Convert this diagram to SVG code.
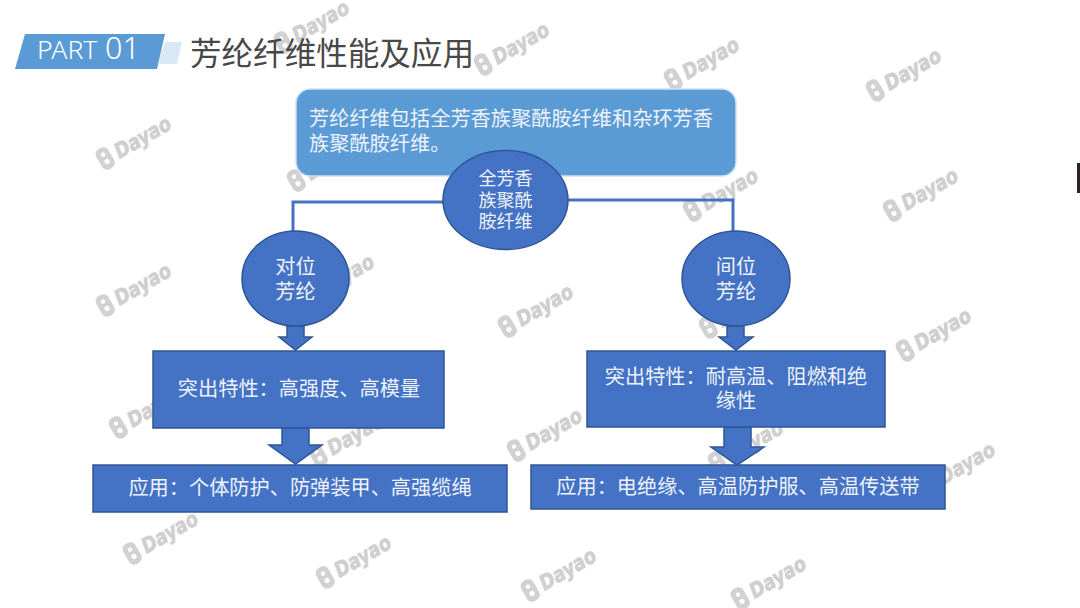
<svg xmlns="http://www.w3.org/2000/svg" width="1080" height="608" viewBox="0 0 1080 608">
<style>
text{font-family:"Noto Sans CJK SC","Noto Sans",sans-serif}
.shape{fill:#4472c4;stroke:#2f5597;stroke-width:1.5}
.t{fill:#eef2fa;font-size:20.2px;text-anchor:middle}
.s{font-size:18px}
.wm{fill:#d2d2d2}
text.wt{font-family:"DejaVu Sans",sans-serif;font-weight:700;font-style:italic;font-size:21px;fill:#cfcfcf;stroke:#cfcfcf;stroke-width:.7}
.con{fill:none;stroke:#4472c4;stroke-width:3}
</style>
<defs>
<g id="mark" transform="rotate(-30)">
<rect class="wm" x="-7" y="-11" width="14" height="23" rx="6"/>
<circle cx="0" cy="-4" r="2.2" fill="#fff"/><circle cx="0" cy="4" r="2.6" fill="#fff"/>
<text class="wt" x="12" y="8" textLength="62" lengthAdjust="spacingAndGlyphs">Dayao</text>
</g>
</defs>
<rect width="1080" height="608" fill="#fff"/>
<g id="watermarks">
<use href="#mark" x="105" y="158"/><use href="#mark" x="296" y="180"/><use href="#mark" x="283" y="42"/>
<use href="#mark" x="483" y="64"/><use href="#mark" x="673" y="79"/><use href="#mark" x="875" y="90"/>
<use href="#mark" x="692" y="210"/><use href="#mark" x="892" y="210"/>
<use href="#mark" x="105" y="305"/><use href="#mark" x="308" y="296"/><use href="#mark" x="507" y="326"/><use href="#mark" x="708" y="327"/><use href="#mark" x="905" y="350"/>
<use href="#mark" x="118" y="427"/><use href="#mark" x="318" y="455"/><use href="#mark" x="516" y="450"/><use href="#mark" x="717" y="462"/><use href="#mark" x="929" y="484"/>
<use href="#mark" x="132" y="553"/><use href="#mark" x="325" y="577"/><use href="#mark" x="530" y="590"/><use href="#mark" x="740" y="598"/>
</g>
<rect id="edge-mark" x="1077" y="163" width="3" height="30" fill="#2a2226"/>
<g id="header">
<polygon points="25,34 165,34 157,69 15,69" fill="#5b9bd5"/>
<polygon points="165,42 182,42 177,64 158,64" fill="#dae8f6"/>
<text y="59" font-weight="300" fill="#fff" style="font-family:'Noto Sans',sans-serif"><tspan x="37" font-size="26.5">PART</tspan><tspan x="105" font-size="30.5">01</tspan></text>
<text x="190" y="64.5" font-size="31.6" fill="#484848" textLength="284">芳纶纤维性能及应用</text>
</g>
<g id="connectors">
<path class="con" d="M443 202H293V232"/>
<path class="con" d="M568 200H733V232"/>
<polygon class="shape" points="287,326 304,326 304,337 312,337 295.5,350 279,337 287,337"/>
<polygon class="shape" points="727,326 744,326 744,337 753,337 736,350 719,337 727,337"/>
<polygon class="shape" points="282,428 309,428 309,445 322,445 295.5,464 269,445 282,445"/>
<polygon class="shape" points="724,427 751,427 751,447 764,447 737,465 711,447 724,447"/>
</g>
<g id="intro">
<rect x="296" y="89" width="440" height="87" rx="14" fill="#5b9bd5" stroke="#cfe0f2" stroke-width="1.5"/>
<text class="t" style="text-anchor:start"><tspan x="309" y="126" textLength="404">芳纶纤维包括全芳香族聚酰胺纤维和杂环芳香</tspan><tspan x="309" y="151">族聚酰胺纤维。</tspan></text>
</g>
<g id="root">
<ellipse class="shape" cx="505.5" cy="200" rx="62.5" ry="49.5"/>
<text class="t s"><tspan x="505.5" y="185">全芳香</tspan><tspan x="505.5" y="207">族聚酰</tspan><tspan x="505.5" y="228">胺纤维</tspan></text>
</g>
<g id="para">
<ellipse class="shape" cx="295.5" cy="278.5" rx="53.5" ry="47.5"/>
<text class="t"><tspan x="295.5" y="274">对位</tspan><tspan x="295.5" y="299">芳纶</tspan></text>
</g>
<g id="meta">
<ellipse class="shape" cx="736" cy="278.5" rx="54" ry="47.5"/>
<text class="t"><tspan x="736" y="274">间位</tspan><tspan x="736" y="299">芳纶</tspan></text>
</g>
<g id="para-props">
<rect class="shape" x="153" y="351" width="291" height="77"/>
<text class="t" x="299" y="396">突出特性：高强度、高模量</text>
</g>
<g id="meta-props">
<rect class="shape" x="587" y="351" width="298" height="76"/>
<text class="t"><tspan x="736" y="384">突出特性：耐高温、阻燃和绝</tspan><tspan x="736" y="408">缘性</tspan></text>
</g>
<g id="para-use">
<rect class="shape" x="93" y="465" width="414" height="47"/>
<text class="t" x="300" y="495">应用：个体防护、防弹装甲、高强缆绳</text>
</g>
<g id="meta-use">
<rect class="shape" x="531" y="465" width="414" height="44"/>
<text class="t" x="738" y="494">应用：电绝缘、高温防护服、高温传送带</text>
</g>
</svg>
